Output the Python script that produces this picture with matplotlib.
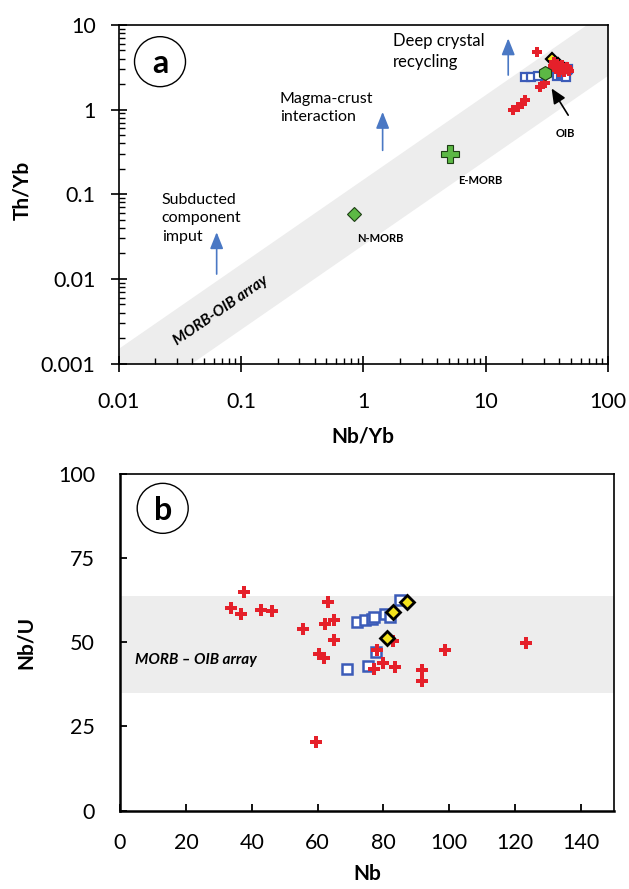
import numpy as np
import matplotlib
matplotlib.use("Agg")
import matplotlib.pyplot as plt
from matplotlib.patches import Ellipse

plt.rcParams['font.family'] = ['Lato', 'DejaVu Sans']

# --- panel a : Th/Yb vs Nb/Yb ---
red_nbyb = [26.1, 16.8, 18.5, 19.7, 20.9, 27.7, 30.5, 36.5, 38.0, 39.5, 41.0,
            43.0, 45.0, 47.0, 37.5, 40.0, 42.0, 44.0, 46.0, 35.5, 33.5, 48.0]
red_thyb = [4.85, 0.98, 1.08, 1.18, 1.29, 1.83, 2.04, 3.7, 3.45, 3.25, 3.05,
            2.9, 3.1, 3.0, 3.0, 2.8, 3.35, 2.75, 3.2, 3.3, 2.9, 2.85]
blue_nbyb = [20.9, 23.7, 26.9, 38.5, 41.5, 44.0, 46.0, 47.5, 45.0, 43.0]
blue_thyb = [2.44, 2.44, 2.5, 2.5, 2.6, 2.75, 2.9, 3.05, 2.45, 3.2]
dia_nbyb = [34.6, 39.0, 43.5]
dia_thyb = [4.0, 3.5, 3.0]

ref_names = ['N-MORB', 'E-MORB', 'OIB']
ref_nbyb = [0.84, 5.1, 30.5]
ref_thyb = [0.059, 0.30, 2.68]

band_lo_ratio = 0.025    # Th/Nb lower edge of MORB-OIB array
band_hi_ratio = 0.148    # Th/Nb upper edge

# --- panel b : Nb/U vs Nb ---
red_nb = [37.5, 33.7, 36.8, 42.9, 46.1, 55.7, 63.1, 62.3, 65.1, 65.1, 60.3,
          61.8, 59.4, 78.0, 77.2, 80.0, 83.0, 83.5, 91.8, 91.8, 98.7, 123.4]
red_nbu = [65.0, 60.3, 58.3, 59.7, 59.3, 54.0, 61.9, 55.4, 56.7, 50.8, 46.6,
           45.4, 20.5, 47.6, 42.2, 43.8, 50.4, 42.6, 41.7, 38.4, 47.6, 49.8]
blue_nb = [68.9, 75.4, 77.8, 71.9, 74.4, 76.4, 77.2, 80.5, 82.0, 85.0]
blue_nbu = [42.2, 42.9, 47.1, 55.9, 56.5, 57.0, 57.6, 58.3, 57.5, 62.6]
dia_nb = [81.0, 83.0, 87.1]
dia_nbu = [51.3, 59.0, 62.0]
band_b = [35.0, 63.7]

RED = '#e5202a'
BLUE = '#3b5bb8'
GREEN = '#5cb845'
ARROW = '#4a78c4'
GREY = '#ededed'

fig = plt.figure(figsize=(6.29, 8.89), dpi=100)
axa = fig.add_axes([0.1884, 0.5911, 0.7782, 0.3808])
axb = fig.add_axes([0.1908, 0.0883, 0.7854, 0.3785])

# ---------------- panel a ----------------
axa.set_xscale('log')
axa.set_yscale('log')
axa.set_xlim(0.01, 100)
axa.set_ylim(0.001, 10)

xs = np.array([0.001, 1000.0])
axa.fill_between(xs, xs * band_lo_ratio, xs * band_hi_ratio, color=GREY, lw=0, zorder=0)
axa.text(0.0686, 0.0042, 'MORB-OIB array', rotation=34.6, rotation_mode='anchor',
         ha='center', va='center', fontsize=11, fontweight='bold', style='italic', zorder=1)

axa.plot(blue_nbyb, blue_thyb, ls='none', marker='s', ms=5.5, mfc='white', mec=BLUE, mew=1.6, zorder=3)
axa.plot(dia_nbyb, dia_thyb, ls='none', marker='D', ms=6, mfc='#f3e21c', mec='black', mew=1.6, zorder=4)
axa.plot(red_nbyb, red_thyb, ls='none', marker='P', ms=7.5, mfc=RED, mec=RED, mew=0, zorder=5)

ref_markers = ['D', 'P', 'h']
ref_sizes = [7, 13, 10]
for nm, x, y, mk, s in zip(ref_names, ref_nbyb, ref_thyb, ref_markers, ref_sizes):
    axa.plot(x, y, ls='none', marker=mk, ms=s, mfc=GREEN, mec='#1d3d14', mew=0.8, zorder=6)

axa.text(1.37, 0.0297, 'N-MORB', fontsize=8, fontweight='bold', ha='center', va='center')
axa.text(9.0, 0.146, 'E-MORB', fontsize=8, fontweight='bold', ha='center', va='center')
axa.text(44.5, 0.525, 'OIB', fontsize=8, fontweight='bold', ha='center', va='center')
axa.annotate('', xy=(34.6, 1.78), xytext=(47.3, 0.86),
             arrowprops=dict(arrowstyle='-|>,head_length=0.9,head_width=0.4', color='black',
                             lw=1.2, shrinkA=0, shrinkB=0), zorder=7)

# process arrows
arrows = [((0.0634, 0.0114), (0.0634, 0.0356)),
          ((1.44, 0.33), (1.44, 0.94)),
          ((15.3, 2.56), (15.3, 6.95))]
for tail, tip in arrows:
    axa.annotate('', xy=tip, xytext=tail,
                 arrowprops=dict(arrowstyle='-|>,head_length=1.0,head_width=0.4', color=ARROW,
                                 lw=1.2, shrinkA=0, shrinkB=0))
axa.text(0.0225, 0.104, 'Subducted\ncomponent\nimput', fontsize=11.5, ha='left', va='top', linespacing=1.4)
axa.text(0.208, 1.62, 'Magma-crust\ninteraction', fontsize=11.5, ha='left', va='top', linespacing=1.4)
axa.text(1.75, 8.0, 'Deep crystal\nrecycling', fontsize=12, ha='left', va='top', linespacing=1.4)

axa.set_xticks([0.01, 0.1, 1, 10, 100])
axa.set_xticklabels(['0.01', '0.1', '1', '10', '100'])
axa.set_yticks([0.001, 0.01, 0.1, 1, 10])
axa.set_yticklabels(['0.001', '0.01', '0.1', '1', '10'])
axa.tick_params(which='major', direction='inout', length=11, width=1.2, labelsize=15.5)
axa.tick_params(axis='x', which='major', pad=15)
axa.tick_params(axis='y', which='major', pad=11)
axa.tick_params(which='minor', direction='in', length=4.5, width=1.0)
for s in axa.spines.values():
    s.set_linewidth(1.2)
axa.set_xlabel('Nb/Yb', fontsize=15, fontweight='bold')
axa.set_ylabel('Th/Yb', fontsize=15, fontweight='bold')
axa.xaxis.set_label_coords(0.5, -0.185)
axa.yaxis.set_label_coords(-0.177, 0.51)

# ---------------- panel b ----------------
axb.set_xlim(0, 150)
axb.set_ylim(0, 100)
axb.axhspan(band_b[0], band_b[1], color=GREY, lw=0, zorder=0)
axb.text(4.6, 44.6, 'MORB \u2013 OIB array', fontsize=11, fontweight='bold', style='italic',
         ha='left', va='center', zorder=1)
axb.plot(blue_nb, blue_nbu, ls='none', marker='s', ms=6.5, mfc='white', mec=BLUE, mew=1.8, zorder=3)
axb.plot(red_nb, red_nbu, ls='none', marker='P', ms=8.5, mfc=RED, mec=RED, mew=0, zorder=4)
axb.plot(dia_nb, dia_nbu, ls='none', marker='D', ms=7.5, mfc='#f3e21c', mec='black', mew=2.0, zorder=5)

axb.set_xticks(np.arange(0, 141, 20))
axb.set_yticks(np.arange(0, 101, 25))
axb.tick_params(direction='in', length=5, width=1.3, labelsize=15.5)
axb.tick_params(axis='x', pad=16)
axb.tick_params(axis='y', pad=18)
axb.spines['left'].set_linewidth(1.8)
axb.spines['bottom'].set_linewidth(1.8)
axb.spines['top'].set_linewidth(1.2)
axb.spines['right'].set_linewidth(1.2)
axb.set_xlabel('Nb', fontsize=15, fontweight='bold')
axb.set_ylabel('Nb/U', fontsize=15, fontweight='bold')
axb.xaxis.set_label_coords(0.5, -0.16)
axb.yaxis.set_label_coords(-0.17, 0.5)

# panel letters
for ax, lab, cx, cy in [(axa, 'a', 0.0848, 0.8916), (axb, 'b', 0.0864, 0.898)]:
    bb = ax.get_position()
    wpx = bb.width * 629
    hpx = bb.height * 889
    ax.add_patch(Ellipse((cx, cy), 51 / wpx, 50 / hpx, transform=ax.transAxes,
                         facecolor='white', edgecolor='black', lw=1.0, zorder=8))
    ax.text(cx, cy - 0.005, lab, transform=ax.transAxes, fontsize=23, fontweight='bold',
            ha='center', va='center', zorder=9)

fig.savefig('out.png', dpi=100)
